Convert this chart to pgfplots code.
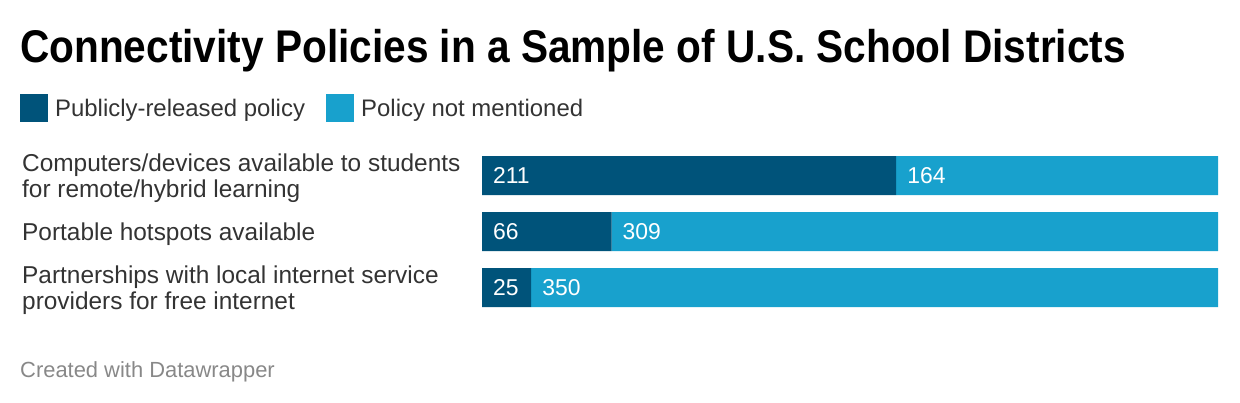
\documentclass[border=0pt]{standalone}
\usepackage{fontspec}
\setmainfont{Liberation Sans}
\newfontfamily\titlefont[FakeStretch=0.886]{Liberation Sans}
\usepackage{pgfplots}
\usepackage{pgfplotstable}
\pgfplotsset{compat=1.18}

\definecolor{pubblue}{HTML}{00537A}
\definecolor{notblue}{HTML}{18A1CD}
\definecolor{labelgray}{HTML}{333333}
\definecolor{footgray}{HTML}{888888}

% number of districts per policy (total 375 each)
\pgfplotstableread{
cat pub notm
0   211 164
1   66  309
2   25  350
}\policies

% shared frame of the bar area
\pgfplotsset{barframe/.style={
  at={(482bp,86.5bp)}, anchor=south west,
  scale only axis, width=736bp, height=168bp,
  xmin=0, xmax=375, ymin=-0.5, ymax=2.5,
  y dir=reverse, clip=false}}

\begin{document}
\begin{tikzpicture}[x=1bp,y=1bp]
\path (0,0) rectangle (1240,402);

% title
\node[anchor=base west, inner sep=0, font=\titlefont\fontsize{46}{50}\selectfont\bfseries]
  at (20,340) {Connectivity Policies in a Sample of U.S. School Districts};

% legend
\fill[pubblue] (20,280) rectangle (48,308);
\node[anchor=base west, inner sep=0, font=\fontsize{24}{28}\selectfont, text=labelgray]
  at (55,286) {Publicly-released policy};
\fill[notblue] (326,280) rectangle (354,308);
\node[anchor=base west, inner sep=0, font=\fontsize{24}{28}\selectfont, text=labelgray]
  at (361,286) {Policy not mentioned};

\begin{axis}[
  barframe,
  xbar stacked, bar width=39bp,
  axis line style={draw=none},
  xtick=\empty,
  ytick={0,1,2},
  yticklabels={
    {Computers/devices available to students\\for remote/hybrid learning},
    {Portable hotspots available},
    {Partnerships with local internet service\\providers for free internet}},
  major tick length=0pt,
  tick style={draw=none},
  yticklabel style={anchor=west, xshift=-460bp, yshift=-2.5bp, align=left, inner sep=0pt,
    font=\fontsize{24.5}{26}\selectfont, text=labelgray},
]
\addplot[fill=pubblue, draw=none] table[x=pub, y=cat]{\policies};
\addplot[fill=notblue, draw=none] table[x=notm, y=cat]{\policies};
\end{axis}

% value labels at the start of each segment
\begin{axis}[
  barframe, hide axis,
  nodes near coords, point meta=explicit symbolic,
  every node near coord/.style={anchor=west, xshift=11bp, inner sep=0pt,
    font=\fontsize{23}{26}\selectfont, text=white},
]
\addplot[draw=none, mark=none] table[x expr=0, y=cat, meta=pub]{\policies};
\addplot[draw=none, mark=none] table[x=pub, y=cat, meta=notm]{\policies};
\end{axis}

% footer
\node[anchor=base west, inner sep=0, font=\fontsize{22}{26}\selectfont, text=footgray]
  at (20,25) {Created with Datawrapper};
\end{tikzpicture}
\end{document}
